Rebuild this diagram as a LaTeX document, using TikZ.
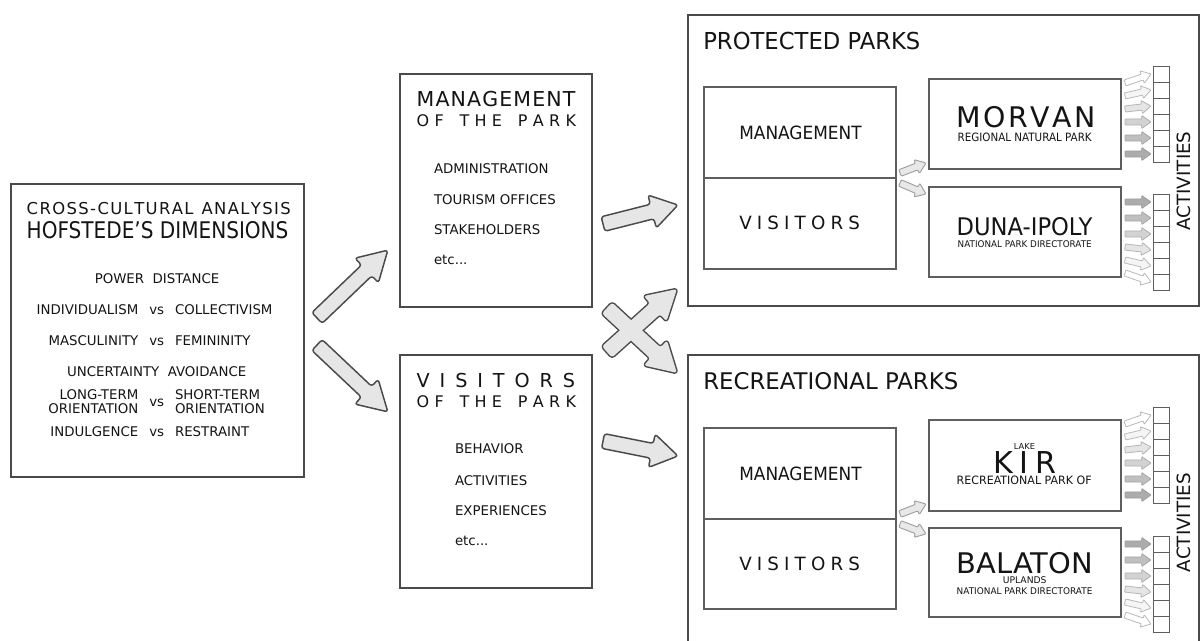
\documentclass[tikz,border=0pt]{standalone}
\usepackage{fontspec}
\setmainfont{DejaVu Sans}
\usepackage{graphicx}
\usetikzlibrary{calc}
\newlength\px \setlength\px{0.75pt}
\ExplSyntaxOn
\box_new:N \l_rs_box
\dim_new:N \l_rs_dim
\NewDocumentCommand\fitk{mm}{
  \hbox_set:Nn \l_rs_box {#2}
  \dim_set:Nn \l_rs_dim { ( #1\px - \box_wd:N \l_rs_box ) / ( \str_count:n {#2} - 1 ) }
  \str_map_inline:nn {#2} { ##1 \kern \l_rs_dim }
  \kern -\l_rs_dim
}
\ExplSyntaxOff
\newcommand\fits[2]{\resizebox{#1\px}{\height}{#2}}
\newcommand\fsz[1]{\fontsize{#1}{#1}\selectfont}
\newcommand\barrow[6]{%
  \path[#1] let \p1=(#2), \p2=(#3), \n1={atan2(\y2-\y1,\x2-\x1)}, \n2={veclen(\x2-\x1,\y2-\y1)} in
    [shift={(\p1)}, rotate=\n1, x=1pt, y=1pt]
    (0,-#4) -- ({\n2-#6},-#4) -- ({\n2-#6},-#5) -- (\n2,0) -- ({\n2-#6},#5) -- ({\n2-#6},#4) -- (0,#4) -- cycle;}
\definecolor{linec}{HTML}{4A4A4A}
\definecolor{thinc}{HTML}{5E5E5E}
\definecolor{arrfill}{HTML}{E6E6E6}
\definecolor{textc}{HTML}{141414}
\tikzset{
  bigbox/.style={draw=linec, line width=1.5pt, inner sep=0, outer sep=0, anchor=north west},
  thinbox/.style={draw=thinc, line width=0.9pt, inner sep=0, outer sep=0, anchor=north west},
  cellbox/.style={draw=thinc, line width=0.7pt, inner sep=0, outer sep=0, minimum width=16\px, minimum height=16\px, anchor=north west},
  txt/.style={inner sep=0, outer sep=0, text=textc},
  barr/.style={draw=linec, fill=arrfill, line width=1.1pt, rounded corners=2pt, line join=round},
  barrout/.style={draw=linec, line width=2.2pt, rounded corners=2pt, line join=round},
  barrin/.style={fill=arrfill, rounded corners=2pt},
  sarr/.style={draw=gray!75, fill=gray!18, line width=0.7pt, rounded corners=0.8pt, line join=round},
  act1/.style={draw=gray!55, fill=white, line width=0.6pt, rounded corners=0.5pt},
  act2/.style={draw=gray!55, fill=gray!8, line width=0.6pt, rounded corners=0.5pt},
  act3/.style={draw=gray!58, fill=gray!20, line width=0.6pt, rounded corners=0.5pt},
  act4/.style={draw=gray!62, fill=gray!35, line width=0.6pt, rounded corners=0.5pt},
  act5/.style={draw=gray!68, fill=gray!50, line width=0.6pt, rounded corners=0.5pt},
  act6/.style={draw=gray!75, fill=gray!65, line width=0.6pt, rounded corners=0.5pt},
}
\begin{document}
\begin{tikzpicture}[x=0.75pt, y=-0.75pt]
\useasboundingbox (0,0) rectangle (1200,641);
\clip (0,0) rectangle (1200,641);
\fill[white] (0,0) rectangle (1200,641);

% ---------- boxes ----------
\node[bigbox, minimum width=293\px, minimum height=293\px] (hof) at (11,184) {};
\node[bigbox, minimum width=192\px, minimum height=233\px] (mgmt) at (400,74) {};
\node[bigbox, minimum width=192\px, minimum height=233\px] (vis) at (400,355) {};
\node[bigbox, minimum width=511\px, minimum height=291\px] (prot) at (688,15) {};
\node[bigbox, minimum width=511\px, minimum height=300\px] (rec) at (688,355) {};

\node[thinbox, minimum width=192\px, minimum height=91\px] (pm) at (704,87) {};
\node[thinbox, minimum width=192\px, minimum height=91\px] (pv) at (704,178) {};
\node[thinbox, minimum width=192\px, minimum height=90\px] (morvan) at (929,79) {};
\node[thinbox, minimum width=192\px, minimum height=90\px] (duna) at (929,187) {};

\node[thinbox, minimum width=192\px, minimum height=91\px] (rm) at (704,428) {};
\node[thinbox, minimum width=192\px, minimum height=90\px] (rv) at (704,519) {};
\node[thinbox, minimum width=192\px, minimum height=91\px] (kir) at (929,420) {};
\node[thinbox, minimum width=192\px, minimum height=89\px] (balaton) at (929,528) {};

\foreach \g/\yy in {pa/66, pb/194, ra/407, rb/536}
  \foreach \k in {0,...,5}
    \node[cellbox] (\g\k) at (1153,\yy+16*\k) {};

% ---------- big arrows ----------
\coordinate (a1t) at (317,318); \coordinate (a1h) at (388,250);
\coordinate (a2t) at (317,345); \coordinate (a2h) at (388,412);
\coordinate (a3t) at (603,224); \coordinate (a3h) at (678,205);
\coordinate (a4t) at (603,441); \coordinate (a4h) at (678,456);
\coordinate (a5t) at (607,352); \coordinate (a5h) at (677,289);
\coordinate (a6t) at (607,308); \coordinate (a6h) at (677,373);
\barrow{barr}{a1t}{a1h}{5.6}{12.75}{22}
\barrow{barr}{a2t}{a2h}{5.6}{12.75}{22}
\barrow{barr}{a3t}{a3h}{5.6}{12.75}{20}
\barrow{barr}{a4t}{a4h}{5.6}{12.75}{20}
\barrow{barrout}{a5t}{a5h}{5.6}{12.75}{22}
\barrow{barrout}{a6t}{a6h}{5.6}{12.75}{22}
\barrow{barrin}{a5t}{a5h}{5.6}{12.75}{22}
\barrow{barrin}{a6t}{a6h}{5.6}{12.75}{22}

% ---------- small arrows ----------
\coordinate (s1t) at (900,173); \coordinate (s1h) at (926,163);
\coordinate (s2t) at (900,183); \coordinate (s2h) at (926,194);
\coordinate (s3t) at (900,514); \coordinate (s3h) at (926,504);
\coordinate (s4t) at (900,524); \coordinate (s4h) at (926,534);
\barrow{sarr}{s1t}{s1h}{2.6}{5.6}{7.5}
\barrow{sarr}{s2t}{s2h}{2.6}{5.6}{7.5}
\barrow{sarr}{s3t}{s3h}{2.6}{5.6}{7.5}
\barrow{sarr}{s4t}{s4h}{2.6}{5.6}{7.5}

% ---------- activity arrows ----------
\foreach \g in {pa, ra}
  \foreach \k/\off/\lv in {0/9/1,1/6/2,2/3/3,3/0/4,4/0/5,5/0/6} {
    \coordinate (\g t\k) at ($(\g\k.west)+(-28,\off)$);
    \coordinate (\g h\k) at ($(\g\k.west)+(-2,0)$);
    \barrow{act\lv}{\g t\k}{\g h\k}{2.3}{4.9}{7}
  }
\foreach \g in {pb, rb}
  \foreach \k/\off/\lv in {0/0/6,1/0/5,2/0/4,3/-3/3,4/-6/2,5/-9/1} {
    \coordinate (\g t\k) at ($(\g\k.west)+(-28,\off)$);
    \coordinate (\g h\k) at ($(\g\k.west)+(-2,0)$);
    \barrow{act\lv}{\g t\k}{\g h\k}{2.3}{4.9}{7}
  }

% ---------- texts: left box ----------
\node[txt, anchor=base west] (t1) at (26.7,215) {\fsz{12.3}\fitk{259}{CROSS-CULTURAL ANALYSIS}};
\node[txt, anchor=base west] (t2) at (26.7,238.3) {\fsz{17.2}\fits{261.7}{HOFSTEDE’S DIMENSIONS}};
\node[txt, anchor=base] (d1) at (157,284) {\fsz{10}POWER\ \ DISTANCE};
\node[txt, anchor=base east] (d2a) at (138.3,314.3) {\fsz{10}INDIVIDUALISM};
\node[txt, anchor=base] (d2b) at (156.7,314.3) {\fsz{10}vs};
\node[txt, anchor=base west] (d2c) at (175,314.3) {\fsz{10}COLLECTIVISM};
\node[txt, anchor=base east] (d3a) at (138.3,345.7) {\fsz{10}MASCULINITY};
\node[txt, anchor=base] (d3b) at (156.7,345.7) {\fsz{10}vs};
\node[txt, anchor=base west] (d3c) at (175,345.7) {\fsz{10}FEMININITY};
\node[txt, anchor=base] (d4) at (156.7,376.7) {\fsz{10}UNCERTAINTY\ \ AVOIDANCE};
\node[txt, anchor=base east] (d5a) at (138.3,400) {\fsz{10}LONG-TERM};
\node[txt, anchor=base east] (d5b) at (138.3,414) {\fsz{10}ORIENTATION};
\node[txt, anchor=base] (d5c) at (156.7,406.7) {\fsz{10}vs};
\node[txt, anchor=base west] (d5d) at (175,400) {\fsz{10}SHORT-TERM};
\node[txt, anchor=base west] (d5e) at (175,414) {\fsz{10}ORIENTATION};
\node[txt, anchor=base east] (d6a) at (138.3,436.7) {\fsz{10}INDULGENCE};
\node[txt, anchor=base] (d6b) at (156.7,436.7) {\fsz{10}vs};
\node[txt, anchor=base west] (d6c) at (175,436.7) {\fsz{10}RESTRAINT};

% ---------- texts: middle boxes ----------
\node[txt, anchor=base west] (mt1) at (416.7,106.7) {\fsz{15.4}\fitk{158.3}{MANAGEMENT}};
\node[txt, anchor=base west] (mt2) at (416.7,126.7) {\fsz{12}\fitk{158.3}{OF THE PARK}};
\node[txt, anchor=base west] (mi1) at (434,173.3) {\fsz{10}ADMINISTRATION};
\node[txt, anchor=base west] (mi2) at (434,204.3) {\fsz{10}TOURISM OFFICES};
\node[txt, anchor=base west] (mi3) at (434,234.3) {\fsz{10}STAKEHOLDERS};
\node[txt, anchor=base west] (mi4) at (434,265) {\fsz{10}etc...};

\node[txt, anchor=base west] (vt1) at (416.7,387.3) {\fsz{14.4}\fitk{158.3}{VISITORS}};
\node[txt, anchor=base west] (vt2) at (416.7,407.3) {\fsz{12}\fitk{158.3}{OF THE PARK}};
\node[txt, anchor=base west] (vi1) at (455,454) {\fsz{10}BEHAVIOR};
\node[txt, anchor=base west] (vi2) at (455,485) {\fsz{10}ACTIVITIES};
\node[txt, anchor=base west] (vi3) at (455,515.7) {\fsz{10}EXPERIENCES};
\node[txt, anchor=base west] (vi4) at (455,546) {\fsz{10}etc...};

% ---------- texts: protected parks ----------
\node[txt, anchor=base west] (pt) at (703.3,49.3) {\fsz{17.5}\fits{217}{PROTECTED PARKS}};
\node[txt, anchor=base west] (pmt) at (739.3,140) {\fsz{13.7}\fits{122.3}{MANAGEMENT}};
\node[txt, anchor=base west] (pvt) at (739.3,230) {\fsz{13.7}\fitk{120.7}{VISITORS}};
\node[txt, anchor=base west] (mo1) at (956.7,127.3) {\fsz{21.3}\fitk{135.7}{MORVAN}};
\node[txt, anchor=base west] (mo2) at (957.7,141.7) {\fsz{8.6}\fits{134}{REGIONAL NATURAL PARK}};
\node[txt, anchor=base west] (du1) at (956.7,236) {\fsz{18.2}\fits{135.7}{DUNA-IPOLY}};
\node[txt, anchor=base west] (du2) at (957.7,247.3) {\fsz{6.9}\fits{134}{NATIONAL PARK DIRECTORATE}};
\node[txt, anchor=base, rotate=90] (pact) at (1190,181) {\fsz{13.7}ACTIVITIES};

% ---------- texts: recreational parks ----------
\node[txt, anchor=base west] (rt) at (703.3,390) {\fsz{17.2}\fits{255}{RECREATIONAL PARKS}};
\node[txt, anchor=base west] (rmt) at (739.3,481) {\fsz{13.7}\fits{122.3}{MANAGEMENT}};
\node[txt, anchor=base west] (rvt) at (739.3,570.7) {\fsz{13.7}\fitk{120.7}{VISITORS}};
\node[txt, anchor=base] (ki0) at (1024.5,449.3) {\fsz{6.2}LAKE};
\node[txt, anchor=base west] (ki1) at (993.3,473.3) {\fsz{22.6}\fitk{62.7}{KIR}};
\node[txt, anchor=base west] (ki2) at (956.7,484.3) {\fsz{8.6}\fits{135}{RECREATIONAL PARK OF}};
\node[txt, anchor=base west] (ba1) at (956.7,573.3) {\fsz{21.3}\fits{136}{BALATON}};
\node[txt, anchor=base] (ba2) at (1024.7,583.3) {\fsz{6.9}UPLANDS};
\node[txt, anchor=base west] (ba3) at (956.7,594) {\fsz{6.9}\fits{135.7}{NATIONAL PARK DIRECTORATE}};
\node[txt, anchor=base, rotate=90] (ract) at (1190,522.5) {\fsz{13.7}ACTIVITIES};
\end{tikzpicture}
\end{document}
